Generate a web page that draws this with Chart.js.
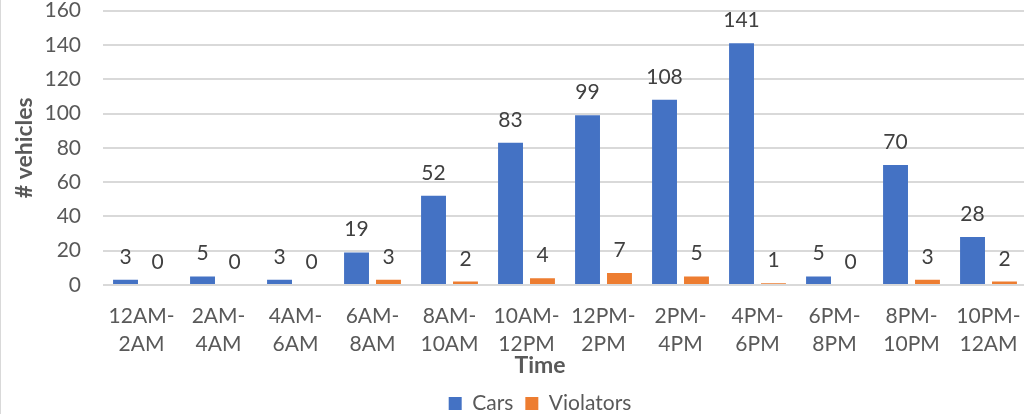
<!DOCTYPE html>
<html>
<head>
<meta charset="utf-8">
<script src="https://cdn.jsdelivr.net/npm/chart.js@4"></script>
<style>
  html, body { margin: 0; padding: 0; background: #fff; overflow: hidden; }
  #wrap { position: relative; width: 1024px; height: 414px; overflow: hidden; border-left: 1px solid #d9d9d9; box-sizing: border-box; }
  #chart { position: absolute; left: -1px; top: -24px; }
</style>
</head>
<body>
<div id="wrap"><canvas id="chart" width="1080" height="448"></canvas></div>
<script>
const timeSlots = [
  ["12AM-", "2AM"], ["2AM-", "4AM"], ["4AM-", "6AM"], ["6AM-", "8AM"],
  ["8AM-", "10AM"], ["10AM-", "12PM"], ["12PM-", "2PM"], ["2PM-", "4PM"],
  ["4PM-", "6PM"], ["6PM-", "8PM"], ["8PM-", "10PM"], ["10PM-", "12AM"]
];
const cars = [3, 5, 3, 19, 52, 83, 99, 108, 141, 5, 70, 28];
const violators = [0, 0, 0, 3, 2, 4, 7, 5, 1, 0, 3, 2];

const FONT = "Lato, 'Open Sans', sans-serif";

// value above each bar
const barValues = {
  id: "barValues",
  afterDatasetsDraw(chart) {
    const ctx = chart.ctx;
    ctx.save();
    ctx.font = "21px " + FONT;
    ctx.fillStyle = "#404040";
    ctx.textAlign = "center";
    ctx.textBaseline = "alphabetic";
    chart.data.datasets.forEach((ds, i) => {
      chart.getDatasetMeta(i).data.forEach((bar, j) => {
        ctx.fillText(String(ds.data[j]), bar.x, bar.y - 16);
      });
    });
    ctx.restore();
  }
};

new Chart(document.getElementById("chart").getContext("2d"), {
  type: "bar",
  data: {
    labels: timeSlots,
    datasets: [
      { label: "Cars", data: cars, backgroundColor: "#4472C4" },
      { label: "Violators", data: violators, backgroundColor: "#ED7D31" }
    ]
  },
  options: {
    responsive: false,
    animation: false,
    categoryPercentage: 0.83,
    barPercentage: 0.78,
    layout: { padding: 0 },
    plugins: {
      title: {
        display: true,
        text: "Time",
        position: "bottom",
        weight: 500,
        color: "#595959",
        padding: { top: -17, bottom: 4 },
        font: { family: FONT, size: 23, weight: "bold", lineHeight: 1.0 }
      },
      legend: {
        position: "bottom",
        weight: 1000,
        labels: {
          boxWidth: 13,
          boxHeight: 13,
          padding: 12,
          color: "#595959",
          font: { family: FONT, size: 21 }
        }
      },
      tooltip: { enabled: false }
    },
    scales: {
      x: {
        afterFit(scale) { scale.height += 4; },
        grid: { display: false },
        border: { display: false },
        ticks: {
          color: "#595959",
          padding: 9,
          maxRotation: 0,
          autoSkip: false,
          font: { family: FONT, size: 21, lineHeight: 1.333 }
        }
      },
      y: {
        min: 0,
        max: 160,
        afterFit(scale) { scale.width = 103; },
        grid: { color: "#d9d9d9", drawTicks: false, lineWidth: 2 },
        border: { display: false },
        ticks: {
          stepSize: 20,
          color: "#595959",
          padding: 22,
          font: { family: FONT, size: 21 }
        },
        title: {
          display: true,
          text: "# vehicles",
          color: "#595959",
          padding: { top: 11, bottom: 0 },
          font: { family: FONT, size: 23, weight: "bold" }
        }
      },
      // empty right margin so the plot ends where the reference's does
      spacer: {
        type: "linear",
        position: "right",
        afterFit(scale) { scale.width = 53; },
        grid: { display: false },
        border: { display: false },
        ticks: { display: false }
      }
    }
  },
  plugins: [barValues]
});
</script>
</body>
</html>
